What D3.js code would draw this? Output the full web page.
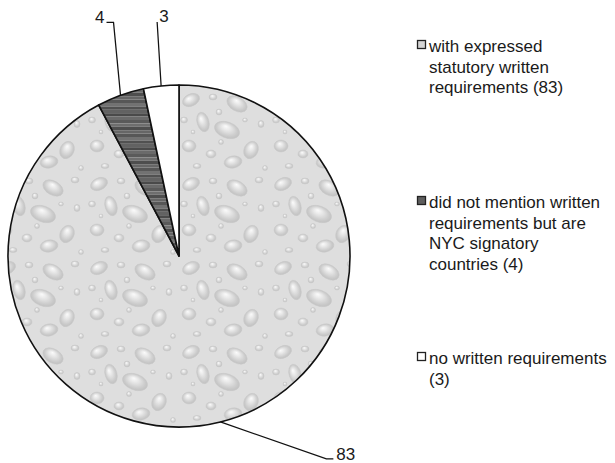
<!DOCTYPE html>
<html>
<head>
<meta charset="utf-8">
<script src="https://cdn.jsdelivr.net/npm/d3@7"></script>
<style>
  body { margin: 0; background: #fff; }
  text { font-family: "Liberation Sans", Arial, sans-serif; fill: #1a1a1a; }
</style>
</head>
<body>
<div id="vis"></div>
<script>
const FRAME_WIDTH = 615;
const FRAME_HEIGHT = 463;

// data
const CATEGORIES = ["with expressed statutory written requirements",
                    "did not mention written requirements but are NYC signatory countries",
                    "no written requirements"];
const VALUES = [83, 4, 3];
const LEGEND_LINES = [["with expressed", "statutory written", "requirements (83)"],
                      ["did not mention written", "requirements but are", "NYC signatory", "countries (4)"],
                      ["no written requirements", "(3)"]];

const CENTER = {x: 179, y: 256};
const RADIUS = 171;
const FILLS = ["url(#drops)", "url(#streaks)", "#ffffff"];
// leader line bend offsets from the arc point, and the short end tick
const LEADERS = [{dx: 106, dy: 37, tick: 7, anchor: "start", ty: 1},
                 {dx: -7, dy: -73, tick: -7, anchor: "end", ty: 1},
                 {dx: -4, dy: -64, tick: 0, anchor: "start", ty: 0}];

const FRAME = d3.select("#vis")
                .append("svg")
                .attr("width", FRAME_WIDTH)
                .attr("height", FRAME_HEIGHT);

const defs = FRAME.append("defs");

// water drop texture for the big slice
const grad = defs.append("radialGradient")
                 .attr("id", "drop")
                 .attr("cx", "50%").attr("cy", "50%").attr("r", "55%")
                 .attr("fx", "40%").attr("fy", "30%");
grad.append("stop").attr("offset", "0%").attr("stop-color", "#fbfbfb");
grad.append("stop").attr("offset", "30%").attr("stop-color", "#e9e9e9");
grad.append("stop").attr("offset", "75%").attr("stop-color", "#cbcbcb");
grad.append("stop").attr("offset", "100%").attr("stop-color", "#bdbdbd");

const drops = defs.append("pattern")
                  .attr("id", "drops")
                  .attr("patternUnits", "userSpaceOnUse")
                  .attr("width", 92).attr("height", 84);
drops.append("rect").attr("width", 92).attr("height", 84).attr("fill", "#dedede");
const DROP_SHAPES = [[12, 12, 9, 6, -25], [34, 9, 4, 3, 0], [58, 16, 11, 7, 30],
                     [24, 34, 6, 10, -15], [48, 42, 13, 8, 20], [10, 58, 7, 6, 0],
                     [32, 66, 5, 4, 0], [72, 62, 7, 9, 25], [40, 24, 3, 3, 0],
                     [5, 32, 3.5, 3, 0], [82, 36, 3, 3.5, 0], [18, 78, 4, 2.5, 0],
                     [80, 8, 4, 3, 0], [54, 74, 9, 6, -10], [86, 80, 2.5, 2.5, 0],
                     [66, 32, 2.5, 2, 0], [42, 54, 2.5, 2.5, 0], [14, 44, 2, 2, 0]];
drops.selectAll("ellipse")
     .data(DROP_SHAPES)
     .enter()
     .append("ellipse")
       .attr("cx", (d) => d[0])
       .attr("cy", (d) => d[1])
       .attr("rx", (d) => d[2])
       .attr("ry", (d) => d[3])
       .attr("transform", (d) => "rotate(" + d[4] + "," + d[0] + "," + d[1] + ")")
       .attr("fill", "url(#drop)")
       .attr("stroke", "#c9c9c9")
       .attr("stroke-width", 0.5);

// dark streaks for the middle slice
const streaks = defs.append("pattern")
                    .attr("id", "streaks")
                    .attr("patternUnits", "userSpaceOnUse")
                    .attr("width", 40).attr("height", 34);
const STREAK_GRAYS = ["#5a5a5a", "#6e6e6e", "#4e4e4e", "#666666", "#575757",
                      "#727272", "#515151", "#626262", "#4a4a4a", "#6a6a6a"];
streaks.selectAll("rect")
       .data(STREAK_GRAYS)
       .enter()
       .append("rect")
         .attr("x", 0)
         .attr("y", (d, i) => i * 3.4)
         .attr("width", 40)
         .attr("height", 3.4)
         .attr("fill", (d) => d);

const pie = d3.pie().sort(null).value((d) => d);
const arcs = pie(VALUES);
const arc = d3.arc().innerRadius(0).outerRadius(RADIUS);
const edge = d3.arc().innerRadius(RADIUS).outerRadius(RADIUS);

const g = FRAME.append("g")
               .attr("transform", "translate(" + CENTER.x + "," + CENTER.y + ")");

g.selectAll("path.slice")
 .data(arcs)
 .enter()
 .append("path")
   .attr("class", "slice")
   .attr("d", arc)
   .attr("fill", (d, i) => FILLS[i])
   .attr("stroke", "#111")
   .attr("stroke-width", 1.6)
   .attr("stroke-linejoin", "round");

// leader lines and value labels
arcs.forEach((d, i) => {
  const p = edge.centroid(d);
  const L = LEADERS[i];
  const bend = [p[0] + L.dx, p[1] + L.dy];
  const end = [bend[0] + L.tick, bend[1]];
  g.append("polyline")
   .attr("points", [p, bend, end].map((q) => q.join(",")).join(" "))
   .attr("fill", "none")
   .attr("stroke", "#111")
   .attr("stroke-width", 1.3);
  const tx = L.tick === 0 ? end[0] + 2 : end[0] + (L.tick > 0 ? 3 : -2);
  g.append("text")
   .attr("x", tx)
   .attr("y", end[1] + L.ty)
   .attr("text-anchor", L.anchor)
   .attr("font-size", "17px")
   .text(d.data);
});

// legend
const LEGEND_TOPS = [52, 208, 364];
const legend = FRAME.selectAll("g.legend")
                    .data(CATEGORIES)
                    .enter()
                    .append("g")
                      .attr("class", "legend")
                      .attr("transform", (d, i) => "translate(417," + LEGEND_TOPS[i] + ")");

legend.append("rect")
      .attr("x", 0.5)
      .attr("y", -11.5)
      .attr("width", 8)
      .attr("height", 8)
      .attr("fill", (d, i) => i === 0 ? "#d4d4d4" : (i === 1 ? "#5e5e5e" : "#ffffff"))
      .attr("stroke", "#222")
      .attr("stroke-width", 1.3);

legend.append("text")
      .attr("x", 12)
      .attr("y", 0)
      .attr("font-size", "17px")
      .selectAll("tspan")
      .data((d, i) => LEGEND_LINES[i])
      .enter()
      .append("tspan")
        .attr("x", 12)
        .attr("dy", (d, j) => j === 0 ? 0 : 20.5)
        .text((d) => d);
</script>
</body>
</html>
